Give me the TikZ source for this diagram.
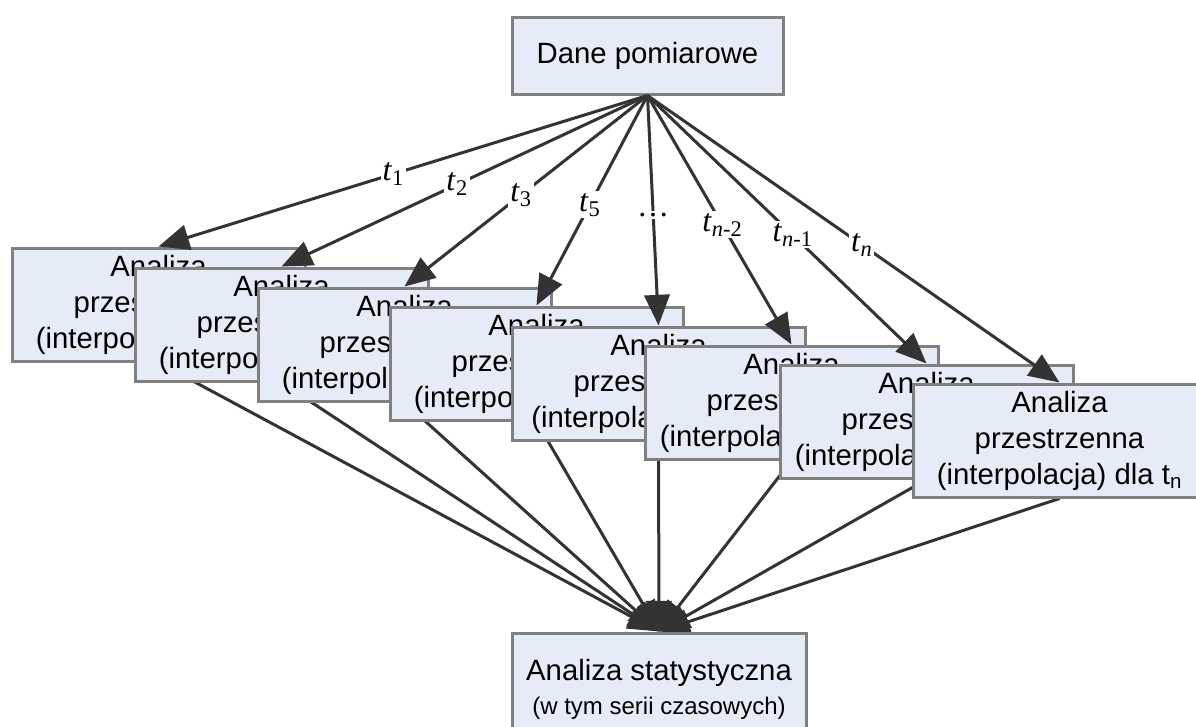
\documentclass[tikz,border=0pt]{standalone}
\usepackage{fontspec}
\setmainfont{Liberation Sans}
\newfontfamily\labelfont{Liberation Serif}
\usetikzlibrary{arrows.meta,backgrounds}

\definecolor{boxfill}{RGB}{230,236,247}
\definecolor{boxline}{RGB}{128,128,128}
\definecolor{arrowgray}{RGB}{51,51,51}

\newcommand{\tlab}[1]{\textit{t}\textsubscript{#1}}

\tikzset{
    analysisbox/.style={draw=boxline, fill=boxfill, line width=2.25pt,
        minimum width=219.75pt, minimum height=84.75pt, inner sep=0pt,
        align=center, font=\fontsize{22}{27}\selectfont},
    flow/.style={draw=arrowgray, line width=2.25pt, -{Triangle[length=23pt,width=19pt]}},
    tlabel/.style={fill=white, inner sep=1.5pt, font=\labelfont\fontsize{24}{28}\selectfont}
}

\begin{document}
\begin{tikzpicture}[x=0.75pt,y=-0.75pt]
        \useasboundingbox (0,0) rectangle (1196,726);

        \def \halfw {146.5}
        \def \halfh {56.5}

        \node[analysisbox, minimum width=203.25pt, minimum height=57.75pt] (dane) at (647.5,55.5) {Dane pomiarowe};
        \node[analysisbox, minimum width=220.5pt] (stat) at (659,689.5)
            {Analiza statystyczna\\[-2pt]{\fontsize{18}{22}\selectfont (w tym serii czasowych)}};

        % one box per time step, each one on top of the previous
        \foreach \i/\lx/\ty/\sub in {1/12/248/1, 2/135/268/2, 3/258/288/3, 4/390/307/5,
                5/512/327/\dots, 6/645/346/n-2, 7/780/365/n-1, 8/913/384/n}{
            \node[analysisbox] (a\i) at (\lx+\halfw,\ty+\halfh)
                {Analiza\\przestrzenna\\(interpolacja) dla t\textsubscript{\sub}};
        };

        \foreach \i/\lab in {1/{\tlab{1}}, 2/{\tlab{2}}, 3/{\tlab{3}}, 4/{\tlab{5}}, 5/{\dots},
                6/{\tlab{\textit{n}-2}}, 7/{\tlab{\textit{n}-1}}, 8/{\tlab{\textit{n}}}}{
            \draw[flow] (dane.south) -- node[tlabel, pos=0.52] {\lab} (a\i.north);
        };

        \begin{pgfonlayer}{background}
            \foreach \i in {1,...,8}{
                \draw[flow] (a\i.south) -- (stat.north);
            };
        \end{pgfonlayer}

    \end{tikzpicture}
\end{document}
